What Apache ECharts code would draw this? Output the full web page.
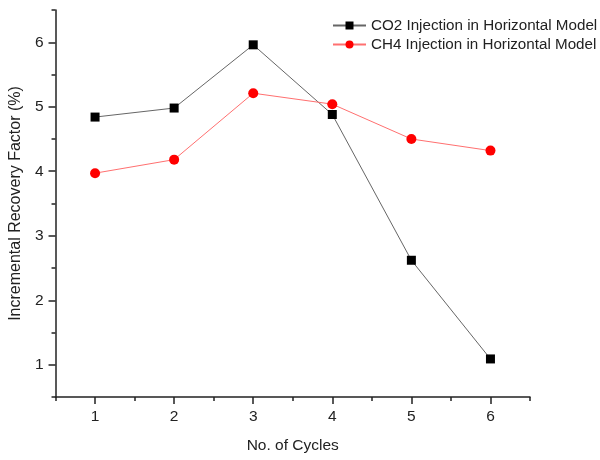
<!DOCTYPE html>
<html>
<head>
<meta charset="utf-8">
<script src="https://cdn.jsdelivr.net/npm/echarts@6/dist/echarts.min.js"></script>
<style>html,body{margin:0;padding:0;background:#fff}#c{width:600px;height:460px}</style>
</head>
<body>
<div id="c"></div>
<script>
var cycles = [1, 2, 3, 4, 5, 6];
var co2 = [4.84, 4.98, 5.96, 4.88, 2.62, 1.09];
var ch4 = [3.97, 4.18, 5.21, 5.04, 4.50, 4.32];
var majorTicks = [1, 2, 3, 4, 5, 6];
var minorTicks = [0.5, 1.5, 2.5, 3.5, 4.5, 5.5, 6.5];

var FONT = 'Liberation Sans, Arial, sans-serif';
var chart = echarts.init(document.getElementById('c'));
function pairs(v){ return cycles.map(function(c,i){ return [c, v[i]]; }); }
var axisLine = {show:true, lineStyle:{color:'#222', width:1.5}};
function majorAxis(extra){
  var a = {
    type:'value', min:0.5, max:6.5, interval:0.5,
    axisLine: axisLine,
    axisTick:{show:true, inside:false, length:7, customValues: majorTicks, lineStyle:{color:'#222', width:1.5}},
    axisLabel:{show:true, customValues: majorTicks, color:'#222', fontSize:15.5, fontFamily:FONT, margin:12},
    splitLine:{show:false}
  };
  for (var k in extra) a[k] = extra[k];
  return a;
}
function minorAxis(extra){
  var a = {
    type:'value', min:0.5, max:6.5, interval:0.5,
    axisLine:{show:false},
    axisTick:{show:true, inside:false, length:4, customValues: minorTicks, lineStyle:{color:'#222', width:1.5}},
    axisLabel:{show:false},
    splitLine:{show:false}
  };
  for (var k in extra) a[k] = extra[k];
  return a;
}
chart.setOption({
  animation:false,
  backgroundColor:'#fff',
  textStyle:{fontFamily:FONT},
  grid:{left:53, top:10, right:70, bottom:63, containLabel:false},
  legend:{
    orient:'vertical', left:332, top:18, padding:0, itemWidth:33, itemHeight:10, itemGap:4,
    textStyle:{color:'#222', fontSize:15.2, fontFamily:FONT},
    data:['CO2 Injection in Horizontal Model','CH4 Injection in Horizontal Model']
  },
  xAxis:[
    majorAxis({position:'bottom', name:'No. of Cycles', nameLocation:'middle', nameGap:41,
      nameTextStyle:{color:'#222', fontSize:15.5, fontFamily:FONT}}),
    minorAxis({position:'bottom'})
  ],
  yAxis:[
    majorAxis({position:'left', name:'Incremental Recovery Factor (%)', nameLocation:'middle', nameGap:20,
      nameTextStyle:{color:'#222', fontSize:16, fontFamily:FONT}}),
    minorAxis({position:'left'})
  ],
  series:[
    {name:'CO2 Injection in Horizontal Model', type:'line', data:pairs(co2),
      symbol:'rect', symbolSize:9, color:'#000',
      itemStyle:{color:'#000'}, lineStyle:{color:'#666', width:1}},
    {name:'CH4 Injection in Horizontal Model', type:'line', data:pairs(ch4),
      symbol:'circle', symbolSize:10, color:'#ff0000',
      itemStyle:{color:'#ff0000'}, lineStyle:{color:'#ff7070', width:1}}
  ]
});
</script>
</body>
</html>
